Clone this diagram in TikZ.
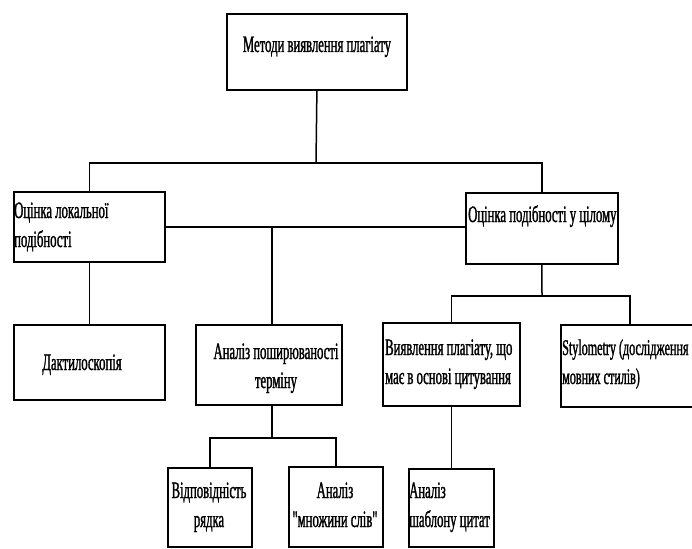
\documentclass[tikz,border=0pt]{standalone}
\usepackage{fontspec}
\newfontfamily\tfont[FakeStretch=0.54,FakeBold=1.2,Ligatures=TeXOff]{Liberation Serif}
\newcommand\ctwo[2]{\vtop{\baselineskip=29pt\halign{\hfil##\hfil\cr#1\cr#2\cr}}}
\newcommand\ltwo[2]{\vtop{\baselineskip=29pt\halign{##\hfil\cr#1\cr#2\cr}}}
\begin{document}
\begin{tikzpicture}[x=1pt,y=-1pt,
  box/.style={draw, line width=1.8pt, rectangle, inner sep=0pt, anchor=north west},
  txt/.style={font=\tfont\fontsize{23.5}{29}\selectfont, inner sep=0pt},
  conn/.style={line width=1.5pt}]
\path[use as bounding box, clip] (0,0) rectangle (692,548);
% boxes
\node[box, minimum width=180pt, minimum height=76pt] (T) at (226,13) {};
\node[box, minimum width=151pt, minimum height=70pt] (L) at (13,191) {};
\node[box, minimum width=152pt, minimum height=71pt] (R) at (465,192) {};
\node[box, minimum width=151pt, minimum height=75pt] (D) at (13,324) {};
\node[box, minimum width=146pt, minimum height=80pt] (A) at (195,324) {};
\node[box, minimum width=137pt, minimum height=83pt] (V) at (382,322) {};
\node[box, minimum width=138pt, minimum height=82pt] (S) at (560,324) {};
\node[box, minimum width=84pt, minimum height=79pt] (B1) at (167,467) {};
\node[box, minimum width=94pt, minimum height=80pt] (B2) at (288,466) {};
\node[box, minimum width=85pt, minimum height=78pt] (B3) at (408,468) {};
% texts
\node[txt, anchor=base] (tT) at (317,52) {Методи виявлення плагіату};
\node[txt, anchor=base west] (tL) at (14,218) {\ltwo{Оцінка локальної}{подібності}};
\node[txt, anchor=base west] (tR) at (468,222) {Оцінка подібності у цілому};
\node[txt, anchor=base] (tD) at (82,370) {Дактилоскопія};
\node[txt, anchor=base] (tA) at (276,359) {\ctwo{Аналіз поширюваності}{терміну}};
\node[txt, anchor=base west] (tV) at (385,355) {\ltwo{Виявлення плагіату, що}{має в основі цитування}};
\node[txt, anchor=base west, font=\tfont\fontsize{22.4}{29}\selectfont] (tS) at (562,355) {\ltwo{Stylometry (дослідження}{мовних стилів)}};
\node[txt, anchor=base] (tB1) at (209,498) {\ctwo{Відповідність}{рядка}};
\node[txt, anchor=base] (tB2) at (335,498) {\ctwo{Аналіз}{"множини слів"}};
\node[txt, anchor=base west] (tB3) at (409,498) {\ltwo{Аналіз}{шаблону цитат}};
% connectors
\coordinate (j1) at (316,163);
\coordinate (j2) at (272,226);
\coordinate (j3) at (542,296);
\coordinate (j4) at (272,438);
\draw[conn] (T.south) -- (j1);
\draw[conn] (L.north) |- (j1) -| (R.north);
\draw[conn] (L.east) -- (L.east -| R.west);
\draw[conn] (j2) -- (j2 |- A.north);
\draw[conn] (L.south) -- (D.north);
\draw[conn] (R.south) -- (j3);
\draw[conn] (V.north) |- (j3) -| (S.north);
\draw[conn] (j4 |- A.south) -- (j4);
\draw[conn] (B1.north) |- (j4) -| (B2.north);
\draw[conn] (V.south) -- (B3.north);
\end{tikzpicture}
\end{document}
